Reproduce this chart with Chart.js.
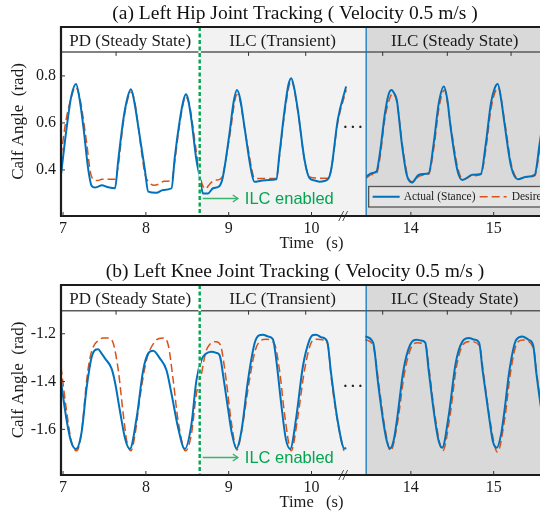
<!DOCTYPE html>
<html>
<head>
<meta charset="utf-8">
<script src="https://cdn.jsdelivr.net/npm/chart.js@4.4.1/dist/chart.umd.min.js"></script>
<style>
  html, body { margin: 0; padding: 0; background: #fff; overflow: hidden; width: 540px; height: 517px; }
  canvas.panel { position: absolute; left: 0; }
</style>
</head>
<body>
<canvas id="hipChart" class="panel" width="562" height="258" style="top:0"></canvas>
<canvas id="kneeChart" class="panel" width="562" height="259" style="top:258px"></canvas>
<script>
// broken time axis: 10.66 s .. 13.46 s is cut out
const SKIP_FROM = 10.66;
const SKIP_TO = 13.46;
const ILC_START = 8.65;
const ARROW_END = 9.11;
const DOTS_AT = 10.50;
const BREAK_MARK_AT = 10.38;

const xTickTimes = [7, 8, 9, 10, 14, 15];
const headerTickTimes = [7.64, 9.24, 9.93, 13.66, 14.44, 15.21];
const headerLabels = ['PD (Steady State)', 'ILC (Transient)', 'ILC (Steady State)'];
const headerLabelTimes = [7.81, 9.65, 14.53];

const hipYTicks = [0.4, 0.6, 0.8];
const kneeYTicks = [-1.6, -1.4, -1.2];

// Left hip, actual (stance)
const hipActualT = [6.975, 7.045, 7.10, 7.157, 7.20, 7.245, 7.305, 7.345, 7.385, 7.43, 7.466, 7.546, 7.627, 7.667, 7.727, 7.78, 7.82, 7.86, 7.908, 7.988,
  8.028, 8.128, 8.209, 8.31, 8.35, 8.41, 8.45, 8.482, 8.51, 8.55, 8.61, 8.65, 8.69, 8.75, 8.81, 8.89, 8.93, 9.01, 9.06, 9.10,
  9.14, 9.19, 9.27, 9.31, 9.39, 9.48, 9.575, 9.614, 9.675, 9.72, 9.755, 9.79, 9.835, 9.916, 9.976, 10.04, 10.096, 10.197, 10.237, 10.317, 10.418,
  13.463, 13.524, 13.585, 13.626, 13.687, 13.73, 13.768, 13.80, 13.83, 13.89, 13.95, 14.012, 14.093, 14.154, 14.215, 14.276, 14.337, 14.398, 14.44,
  14.479, 14.561, 14.622, 14.744, 14.845, 14.906, 14.967, 15.01, 15.049, 15.09, 15.13, 15.211, 15.293, 15.394, 15.495, 15.556, 15.60, 15.64];
const hipActualV = [0.38, 0.584, 0.715, 0.766, 0.70, 0.584, 0.40, 0.332, 0.325, 0.33, 0.335, 0.326, 0.322, 0.443, 0.613, 0.71, 0.743, 0.69, 0.584, 0.40,
  0.308, 0.303, 0.315, 0.322, 0.457, 0.613, 0.69, 0.722, 0.70, 0.613, 0.443, 0.371, 0.30, 0.30, 0.322, 0.332, 0.371, 0.556, 0.69, 0.74,
  0.70, 0.584, 0.40, 0.35, 0.354, 0.357, 0.36, 0.471, 0.655, 0.76, 0.79, 0.75, 0.655, 0.443, 0.365, 0.355, 0.35, 0.36, 0.40, 0.613, 0.755,
  0.371, 0.386, 0.393, 0.471, 0.641, 0.72, 0.74, 0.725, 0.698, 0.514, 0.379, 0.346, 0.379, 0.383, 0.386, 0.514, 0.684, 0.755, 0.70,
  0.584, 0.40, 0.357, 0.379, 0.383, 0.514, 0.684, 0.745, 0.765, 0.70, 0.599, 0.414, 0.36, 0.371, 0.379, 0.514, 0.62, 0.70];

// Left hip, desired
const hipDesiredT = [6.975, 7.03, 7.10, 7.15, 7.20, 7.285, 7.33, 7.36, 7.42, 7.47, 7.55, 7.63, 7.667, 7.727, 7.78, 7.82, 7.86, 7.95, 7.99, 8.03,
  8.10, 8.16, 8.22, 8.31, 8.35, 8.41, 8.48, 8.53, 8.60, 8.65, 8.69, 8.72, 8.76, 8.82, 8.89, 8.93, 9.01, 9.10, 9.14, 9.19,
  9.24, 9.28, 9.31, 9.39, 9.575, 9.614, 9.675, 9.755, 9.835, 9.916, 9.976, 10.1, 10.2, 10.237, 10.317, 10.418,
  13.463, 13.524, 13.585, 13.626, 13.687, 13.74, 13.78, 13.83, 13.90, 13.96, 14.02, 14.093, 14.154, 14.215, 14.28, 14.34, 14.405, 14.48,
  14.565, 14.63, 14.744, 14.845, 14.91, 14.97, 15.055, 15.135, 15.215, 15.30, 15.394, 15.495, 15.56, 15.64];
const hipDesiredV = [0.46, 0.60, 0.71, 0.752, 0.71, 0.514, 0.39, 0.362, 0.355, 0.36, 0.36, 0.36, 0.42, 0.60, 0.70, 0.73, 0.70, 0.47, 0.38, 0.35,
  0.335, 0.34, 0.352, 0.355, 0.44, 0.60, 0.71, 0.67, 0.50, 0.38, 0.33, 0.32, 0.335, 0.355, 0.36, 0.38, 0.54, 0.72, 0.69, 0.58,
  0.48, 0.40, 0.365, 0.363, 0.363, 0.46, 0.64, 0.78, 0.65, 0.44, 0.37, 0.365, 0.365, 0.40, 0.60, 0.74,
  0.365, 0.38, 0.385, 0.45, 0.62, 0.70, 0.725, 0.69, 0.50, 0.375, 0.35, 0.372, 0.378, 0.382, 0.50, 0.665, 0.74, 0.59,
  0.41, 0.36, 0.375, 0.38, 0.50, 0.665, 0.75, 0.60, 0.42, 0.362, 0.37, 0.375, 0.50, 0.69];

// Left knee, actual (stance)
const kneeActualT = [6.975, 7.045, 7.10, 7.157, 7.225, 7.285, 7.345, 7.38, 7.425, 7.46, 7.506, 7.586, 7.627, 7.687, 7.75, 7.807, 7.888, 7.967, 8.028, 8.088,
  8.169, 8.249, 8.31, 8.389, 8.47, 8.55, 8.61, 8.67, 8.72, 8.79, 8.85, 8.89, 8.91, 8.93, 8.99, 9.04, 9.093, 9.153, 9.233, 9.313,
  9.36, 9.414, 9.48, 9.534, 9.575, 9.635, 9.69, 9.743, 9.815, 9.895, 9.976, 10.02, 10.057, 10.12, 10.19, 10.237, 10.317, 10.398, 10.42,
  13.45, 13.544, 13.605, 13.666, 13.71, 13.748, 13.79, 13.83, 13.91, 13.99, 14.073, 14.12, 14.174, 14.215, 14.276, 14.33, 14.378, 14.459, 14.54,
  14.622, 14.702, 14.77, 14.824, 14.866, 14.946, 14.99, 15.037, 15.09, 15.13, 15.19, 15.272, 15.345, 15.42, 15.476, 15.516, 15.577, 15.62];
const kneeActualV = [-1.40, -1.566, -1.655, -1.682, -1.609, -1.424, -1.297, -1.27, -1.265, -1.28, -1.303, -1.346, -1.403, -1.523, -1.64, -1.682, -1.552, -1.353, -1.282, -1.271,
  -1.303, -1.353, -1.452, -1.593, -1.682, -1.579, -1.395, -1.31, -1.285, -1.275, -1.28, -1.29, -1.32, -1.367, -1.509, -1.62, -1.68, -1.609, -1.395, -1.24,
  -1.208, -1.204, -1.212, -1.223, -1.31, -1.495, -1.64, -1.682, -1.552, -1.339, -1.226, -1.205, -1.204, -1.215, -1.233, -1.367, -1.566, -1.68, -1.678,
  -1.211, -1.237, -1.41, -1.566, -1.65, -1.68, -1.65, -1.566, -1.353, -1.247, -1.225, -1.228, -1.237, -1.353, -1.523, -1.64, -1.677, -1.537, -1.325,
  -1.233, -1.218, -1.225, -1.237, -1.353, -1.552, -1.65, -1.677, -1.62, -1.523, -1.353, -1.225, -1.211, -1.225, -1.247, -1.367, -1.523, -1.62];

// Left knee, desired
const kneeDesiredT = [6.975, 7.045, 7.10, 7.165, 7.22, 7.285, 7.32, 7.365, 7.42, 7.48, 7.546, 7.606, 7.667, 7.727, 7.77, 7.82, 7.87, 7.928, 8.008, 8.108,
  8.16, 8.209, 8.27, 8.33, 8.39, 8.48, 8.55, 8.61, 8.67, 8.72, 8.77, 8.85, 8.90, 8.97, 9.03, 9.10, 9.16, 9.25, 9.32, 9.39,
  9.45, 9.55, 9.614, 9.675, 9.755, 9.83, 9.915, 10.0, 10.06, 10.15, 10.2, 10.237, 10.32, 10.39,
  13.45, 13.544, 13.62, 13.68, 13.755, 13.84, 13.92, 14.0, 14.08, 14.18, 14.225, 14.29, 14.385, 14.47, 14.55, 14.63, 14.71, 14.83,
  14.875, 14.955, 15.045, 15.14, 15.2, 15.28, 15.35, 15.48, 15.525, 15.585, 15.63];
const kneeDesiredV = [-1.338, -1.53, -1.65, -1.69, -1.62, -1.395, -1.31, -1.254, -1.23, -1.218, -1.218, -1.24, -1.353, -1.537, -1.65, -1.69, -1.62, -1.467, -1.31, -1.233,
  -1.22, -1.218, -1.247, -1.395, -1.566, -1.69, -1.62, -1.452, -1.37, -1.28, -1.245, -1.233, -1.247, -1.395, -1.566, -1.686, -1.60, -1.395, -1.27, -1.228,
  -1.223, -1.24, -1.353, -1.537, -1.69, -1.56, -1.353, -1.235, -1.223, -1.226, -1.25, -1.38, -1.579, -1.69,
  -1.225, -1.25, -1.43, -1.58, -1.69, -1.57, -1.37, -1.26, -1.238, -1.25, -1.36, -1.54, -1.69, -1.55, -1.34, -1.245, -1.232, -1.25,
  -1.36, -1.56, -1.695, -1.54, -1.37, -1.24, -1.226, -1.26, -1.38, -1.54, -1.64];

const BLUE = '#0072BD';
const ORANGE = '#D95319';
const SERIF = '"Liberation Serif", "Times New Roman", serif';
const SANS = '"Liberation Sans", Arial, sans-serif';

function toAxis(t) {
  return t > (SKIP_FROM + SKIP_TO) / 2 ? t - (SKIP_TO - SKIP_FROM) : t;
}
function fromAxis(v) {
  return v > SKIP_FROM + 1e-6 ? v + (SKIP_TO - SKIP_FROM) : v;
}
function toPoints(ts, vs) {
  const pts = [];
  for (let i = 0; i < ts.length; i++) {
    if (i > 0 && toAxis(ts[i]) !== ts[i] && toAxis(ts[i - 1]) === ts[i - 1]) {
      pts.push({ x: SKIP_FROM - 0.1, y: null }); // gap at the break
    }
    pts.push({ x: toAxis(ts[i]), y: vs[i] });
  }
  return pts;
}
function line(ctx, x1, y1, x2, y2) {
  ctx.beginPath();
  ctx.moveTo(x1, y1);
  ctx.lineTo(x2, y2);
  ctx.stroke();
}

/**
 * Shading, header strip, markers, frame and title for one panel
 */
const panelDecor = {
  id: 'panelDecor',
  beforeDraw(chart) {
    const { ctx, chartArea: a, scales: { x } } = chart;
    const xIlc = x.getPixelForValue(ILC_START);
    const xSep = x.getPixelForValue(SKIP_FROM);
    ctx.save();
    ctx.fillStyle = '#ffffff';
    ctx.fillRect(0, 0, chart.width, chart.height);
    ctx.fillStyle = '#f2f2f2';
    ctx.fillRect(xIlc, a.top, xSep - xIlc, a.bottom - a.top);
    ctx.fillStyle = '#d9d9d9';
    ctx.fillRect(xSep, a.top, a.right - xSep, a.bottom - a.top);
    ctx.restore();
  },
  afterDatasetsDraw(chart, args, opts) {
    const { ctx, chartArea: a, scales: { x, y } } = chart;
    const xIlc = x.getPixelForValue(ILC_START);
    const xSep = x.getPixelForValue(SKIP_FROM);
    const yHead = y.getPixelForValue(opts.headerY);
    ctx.save();

    // header strip
    ctx.strokeStyle = '#5a5a5a';
    ctx.lineWidth = 1.5;
    line(ctx, a.left, yHead, a.right, yHead);
    ctx.lineWidth = 1;
    ctx.strokeStyle = '#333';
    headerTickTimes.forEach(t => {
      const px = x.getPixelForValue(toAxis(t));
      line(ctx, px, yHead, px, yHead + 4);
    });
    ctx.fillStyle = '#1a1a1a';
    ctx.font = `17px ${SERIF}`;
    ctx.textAlign = 'center';
    ctx.textBaseline = 'middle';
    headerLabels.forEach((s, i) => {
      ctx.fillText(s, x.getPixelForValue(toAxis(headerLabelTimes[i])), (a.top + yHead) / 2 + 2);
    });

    // segment separator
    ctx.strokeStyle = BLUE;
    ctx.lineWidth = 1.2;
    line(ctx, xSep, a.top, xSep, a.bottom);

    // ILC switch line
    ctx.strokeStyle = '#ffffff';
    ctx.lineWidth = 2.4;
    line(ctx, xIlc, a.top, xIlc, a.bottom);
    ctx.strokeStyle = '#00A651';
    ctx.setLineDash([4, 2.5]);
    line(ctx, xIlc, a.top, xIlc, a.bottom);
    ctx.setLineDash([]);

    // "ILC enabled" arrow
    const ya = a.bottom - 17.5;
    const xEnd = x.getPixelForValue(ARROW_END);
    ctx.strokeStyle = '#3DB56F';
    ctx.lineWidth = 1.5;
    line(ctx, xIlc + 3, ya, xEnd, ya);
    ctx.beginPath();
    ctx.moveTo(xEnd - 5, ya - 3.5);
    ctx.lineTo(xEnd, ya);
    ctx.lineTo(xEnd - 5, ya + 3.5);
    ctx.stroke();
    ctx.fillStyle = '#00A650';
    ctx.font = `16.5px ${SANS}`;
    ctx.textAlign = 'left';
    ctx.fillText('ILC enabled', xEnd + 7, ya + 1);

    // break markers
    ctx.fillStyle = '#222';
    ctx.font = `bold 15px ${SERIF}`;
    ctx.textAlign = 'center';
    ctx.fillText('. . .', x.getPixelForValue(DOTS_AT), (a.top + a.bottom) / 2 + 3);
    ctx.font = `italic 14px ${SERIF}`;
    ctx.fillText('//', x.getPixelForValue(BREAK_MARK_AT), a.bottom + 1.5);

    // frame
    ctx.strokeStyle = '#1c1c1c';
    ctx.lineWidth = 2.2;
    ctx.beginPath();
    ctx.moveTo(a.right, a.top);
    ctx.lineTo(a.left, a.top);
    ctx.lineTo(a.left, a.bottom);
    ctx.lineTo(a.right, a.bottom);
    ctx.stroke();

    // inward ticks
    ctx.lineWidth = 1;
    ctx.strokeStyle = '#333';
    x.ticks.forEach(tk => {
      const px = x.getPixelForValue(tk.value);
      line(ctx, px, a.bottom, px, a.bottom - 4);
    });
    y.ticks.forEach(tk => {
      const py = y.getPixelForValue(tk.value);
      line(ctx, a.left, py, a.left + 4, py);
    });

    // legend
    if (opts.legend) {
      const lx = xSep + 2.5, ly = a.bottom - 29.5, lh = 20.5;
      ctx.fillStyle = '#e4e4e4';
      ctx.fillRect(lx, ly, 200, lh);
      ctx.strokeStyle = '#555';
      ctx.lineWidth = 1.3;
      ctx.strokeRect(lx, ly, 200, lh);
      const cy = ly + lh / 2;
      const ds = chart.data.datasets;
      ctx.strokeStyle = ds[0].borderColor;
      ctx.lineWidth = ds[0].borderWidth;
      line(ctx, lx + 4, cy, lx + 31, cy);
      ctx.strokeStyle = ds[1].borderColor;
      ctx.lineWidth = ds[1].borderWidth;
      ctx.setLineDash(ds[1].borderDash);
      line(ctx, lx + 111, cy, lx + 138, cy);
      ctx.setLineDash([]);
      ctx.fillStyle = '#222';
      ctx.font = `11.5px ${SERIF}`;
      ctx.textAlign = 'left';
      ctx.fillText(ds[0].label, lx + 35, cy + 0.5);
      ctx.fillText(ds[1].label, lx + 143, cy + 0.5);
    }
    ctx.restore();
  },
  afterDraw(chart, args, opts) {
    const { ctx } = chart;
    ctx.save();
    ctx.fillStyle = '#111';
    ctx.font = `19.5px ${SERIF}`;
    ctx.textAlign = 'center';
    ctx.textBaseline = 'middle';
    ctx.fillText(opts.title, 295, 14);
    ctx.restore();
  }
};

function makePanel(id, actual, desired, yTicks, yMin, yMax, headerY, title, legend) {
  const tickFont = { family: SERIF, size: 16 };
  return new Chart(document.getElementById(id), {
    type: 'line',
    data: {
      datasets: [
        {
          label: 'Actual (Stance)',
          data: actual,
          borderColor: BLUE,
          borderWidth: 2,
          pointRadius: 0,
          cubicInterpolationMode: 'monotone',
          spanGaps: false,
        },
        {
          label: 'Desired',
          data: desired,
          borderColor: ORANGE,
          borderWidth: 1.5,
          borderDash: [8, 4],
          pointRadius: 0,
          cubicInterpolationMode: 'monotone',
          spanGaps: false,
        },
      ],
    },
    options: {
      responsive: false,
      animation: false,
      layout: { padding: { top: 27, left: 0, right: 0, bottom: 0 } },
      plugins: {
        legend: { display: false },
        tooltip: { enabled: false },
        panelDecor: { headerY, title, legend },
      },
      scales: {
        x: {
          type: 'linear',
          min: 6.975,
          max: 13.025,
          grid: { display: false, drawTicks: false },
          border: { display: false },
          afterBuildTicks: s => { s.ticks = xTickTimes.map(t => ({ value: toAxis(t) })); },
          afterFit: s => { s.height = 42; },
          ticks: {
            autoSkip: false,
            maxRotation: 0,
            padding: 3,
            color: '#1a1a1a',
            font: tickFont,
            callback: v => String(Math.round(fromAxis(v))),
          },
          title: {
            display: true,
            text: 'Time   (s)',
            color: '#1a1a1a',
            font: { family: SERIF, size: 16.5 },
            padding: { top: 0, bottom: 4 },
          },
        },
        y: {
          type: 'linear',
          min: yMin,
          max: yMax,
          grid: { display: false, drawTicks: false },
          border: { display: false },
          afterBuildTicks: s => { s.ticks = yTicks.map(v => ({ value: v })); },
          afterFit: s => { s.width = 61; },
          ticks: {
            padding: 5,
            color: '#1a1a1a',
            font: tickFont,
            callback: v => v.toFixed(1),
          },
          title: {
            display: true,
            text: 'Calf Angle  (rad)',
            color: '#1a1a1a',
            font: { family: SERIF, size: 17 },
            padding: { top: 8, bottom: 0 },
          },
        },
      },
    },
    plugins: [panelDecor],
  });
}

makePanel('hipChart', toPoints(hipActualT, hipActualV), toPoints(hipDesiredT, hipDesiredV),
  hipYTicks, 0.204, 1.008, 0.902, '(a) Left Hip Joint Tracking ( Velocity 0.5 m/s )', true);
makePanel('kneeChart', toPoints(kneeActualT, kneeActualV), toPoints(kneeDesiredT, kneeDesiredV),
  kneeYTicks, -1.791, -0.996, -1.1035, '(b) Left Knee Joint Tracking ( Velocity 0.5 m/s )', false);
</script>
</body>
</html>
